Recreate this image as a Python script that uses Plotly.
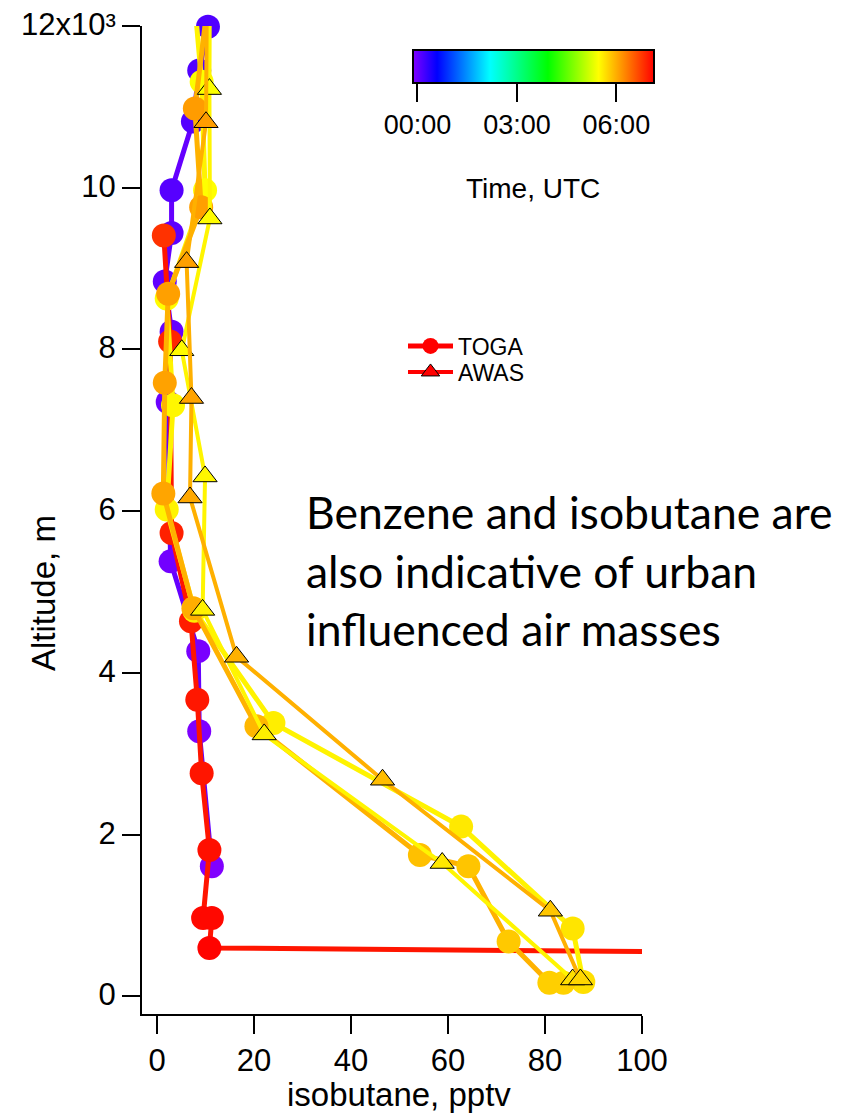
import plotly.graph_objects as go
from plotly.colors import sample_colorscale

# ---------------- data ----------------
# isobutane (pptv), altitude (m), time (h UTC)
toga_a_x = [11.3, 8.7, 8.5, 2.8, 2.2, 3.0, 1.6, 3.0, 3.0, 7.4, 8.7, 10.5]
toga_a_alt = [1610, 3280, 4270, 5380, 7350, 8220, 8840, 9440, 9970, 10820, 11450, 11990]
toga_a_time = [-0.15, -0.14, -0.11, -0.07, -0.03, 0.0, 0.03, 0.06, 0.09, 0.10, 0.11, 0.12]

toga_b_x = [7.3, 9.2, 9.9, 2.0, 3.3, 2.0, 7.7, 24.0, 62.7, 85.7, 87.9]
toga_b_alt = [12600, 11310, 9970, 8630, 7310, 6020, 4770, 3380, 2100, 840, 180]
toga_b_time = [5.42, 5.43, 5.45, 5.47, 5.50, 5.52, 5.54, 5.56, 5.59, 5.62, 5.66]

toga_c_x = [83.8, 80.9, 72.5, 64.2, 54.2, 20.5, 7.5, 1.3, 1.6, 2.3, 9.1, 7.8, 11.1]
toga_c_alt = [170, 170, 680, 1610, 1750, 3340, 4800, 6220, 7590, 8690, 9760, 10980, 12600]
toga_c_time = [5.74, 5.76, 5.80, 5.83, 5.86, 5.92, 5.98, 6.04, 6.06, 6.07, 6.08, 6.10, 6.12]

toga_d_x = [1.4, 2.7, 3.0, 7.0, 8.3, 9.2, 10.8, 9.5, 11.3, 10.8, 200]
toga_d_alt = [9410, 8100, 5730, 4640, 3670, 2760, 1810, 970, 970, 600, 505]
toga_d_time = [6.79, 6.88, 6.91, 6.93, 6.97, 6.98, 7.02, 7.06, 7.07, 7.10, 7.12]

awas_a_x = [10.9, 10.8, 10.9, 5.1, 9.9, 9.4, 22.1, 58.8, 85.7]
awas_a_alt = [12600, 11220, 9620, 7990, 6430, 4780, 3240, 1650, 210]
awas_a_time = [5.42, 5.43, 5.46, 5.48, 5.50, 5.53, 5.56, 5.60, 5.66]

awas_b_x = [87.3, 81.1, 46.5, 16.4, 6.8, 7.1, 6.1, 10.1, 10.3]
awas_b_alt = [210, 1060, 2680, 4200, 6170, 7400, 9080, 10810, 12600]
awas_b_time = [5.72, 5.82, 5.88, 5.96, 6.02, 6.05, 6.07, 6.09, 6.10]

x_ticks = [0, 20, 40, 60, 80, 100]
y_ticks = [0, 2000, 4000, 6000, 8000, 10000, 12000]
y_ticktext = ["0", "2", "4", "6", "8", "10", "12x10³"]
time_ticks = [0, 3, 6]
time_ticktext = ["00:00", "03:00", "06:00"]
note_lines = ["Benzene and isobutane are", "also indicative of urban", "influenced air masses"]

# ---------------- style ----------------
CMIN, CMAX = -0.15, 7.12
CSCALE = [[0.0, "#8000FF"], [0.10, "#0000FF"], [0.32, "#00FFFF"],
          [0.56, "#00FF00"], [0.77, "#FFFF00"], [1.0, "#FF0000"]]
FONT = "Liberation Sans, Arial, Helvetica, sans-serif"

OFF = 8                      # page body margin
W, H = 850 - OFF, 1118 - OFF
ML, MT = 142 - OFF, 26 - OFF
MR, MB = W - (642 - OFF), H - (1014 - OFF)
PW, PH = W - ML - MR, H - MT - MB


def fx(page_x):
    return (page_x - OFF - ML) / PW


def fy(page_y):
    return 1 - (page_y - OFF - MT) / PH


def line_color(times):
    m = sum(times) / len(times)
    return sample_colorscale(CSCALE, [(m - CMIN) / (CMAX - CMIN)])[0]


fig = go.Figure()


def add_profile(x, alt, t, symbol, lw, size, showscale=False):
    marker = dict(color=t, colorscale=CSCALE, cmin=CMIN, cmax=CMAX, size=size,
                  symbol=symbol, opacity=1, showscale=showscale,
                  line=dict(color="black", width=1 if symbol != "circle" else 0))
    if showscale:
        marker["colorbar"] = dict(
            orientation="h",
            x=fx(533), xanchor="center", y=fy(50), yanchor="top",
            len=241, lenmode="pixels", thickness=33, thicknessmode="pixels",
            outlinewidth=2, outlinecolor="black", xpad=0, ypad=0,
            ticks="outside", ticklen=18, tickwidth=2, tickcolor="black",
            tickvals=time_ticks, ticktext=time_ticktext,
            tickfont=dict(size=27, family=FONT, color="black"),
        )
    fig.add_trace(go.Scatter(
        x=x, y=alt, mode="lines+markers", showlegend=False, cliponaxis=False,
        line=dict(color=line_color(t), width=lw), marker=marker,
        hoverinfo="x+y",
    ))


add_profile(toga_a_x, toga_a_alt, toga_a_time, "circle", 5, 24)
add_profile(toga_d_x, toga_d_alt, toga_d_time, "circle", 5, 24)
add_profile(toga_b_x, toga_b_alt, toga_b_time, "circle", 5, 24, showscale=True)
add_profile(toga_c_x, toga_c_alt, toga_c_time, "circle", 5, 24)
add_profile(awas_a_x, awas_a_alt, awas_a_time, "triangle-up", 4, 21)
add_profile(awas_b_x, awas_b_alt, awas_b_time, "triangle-up", 4, 21)

# legend entries
fig.add_trace(go.Scatter(x=[None], y=[None], mode="lines+markers", name="TOGA",
                         legend="legend",
                         line=dict(color="#FF0000", width=5),
                         marker=dict(color="#FF0000", size=16, symbol="circle")))
fig.add_trace(go.Scatter(x=[None], y=[None], mode="lines+markers", name="AWAS",
                         legend="legend2",
                         line=dict(color="#FF0000", width=4),
                         marker=dict(color="#FF0000", size=16, symbol="triangle-up",
                                     line=dict(color="black", width=1))))

axis_common = dict(showline=True, linewidth=2, linecolor="black", ticks="outside",
                   ticklen=18, tickwidth=2, tickcolor="black", showgrid=False,
                   zeroline=False, automargin=False, ticklabeloverflow="allow",
                   tickfont=dict(size=31, family=FONT, color="black"))

legend_common = dict(xanchor="left", yanchor="middle", bgcolor="rgba(0,0,0,0)",
                     borderwidth=0, itemwidth=45,
                     font=dict(size=23, family=FONT, color="black"))

fig.update_layout(
    width=W, height=H, autosize=False,
    margin=dict(l=ML, r=MR, t=MT, b=MB, pad=0, autoexpand=False),
    paper_bgcolor="white", plot_bgcolor="white",
    font=dict(family=FONT, color="black"),
    xaxis=dict(range=[-3.1, 100], tickvals=x_ticks, **axis_common),
    yaxis=dict(range=[-217, 12000], tickvals=y_ticks, ticktext=y_ticktext,
               ticklabelshift=-2, **axis_common),
    showlegend=True,
    legend=dict(x=fx(403), y=fy(346), **legend_common),
    legend2=dict(x=fx(403), y=fy(372), **legend_common),
)

annotations = [
    dict(text="isobutane, pptv", x=fx(399), y=fy(1094), xref="paper", yref="paper",
         showarrow=False, xanchor="center", yanchor="middle",
         font=dict(size=33, family=FONT, color="black")),
    dict(text="Altitude, m", x=fx(43), y=fy(593), xref="paper", yref="paper",
         showarrow=False, xanchor="center", yanchor="middle", textangle=-90,
         font=dict(size=33, family=FONT, color="black")),
    dict(text="Time, UTC", x=fx(533), y=fy(188), xref="paper", yref="paper",
         showarrow=False, xanchor="center", yanchor="middle",
         font=dict(size=28, family=FONT, color="black")),
]
for i, t in enumerate(note_lines):
    annotations.append(dict(
        text=t, x=fx(304), y=fy(512 + 58 * i), xref="paper", yref="paper",
        showarrow=False, xanchor="left", yanchor="middle",
        font=dict(size=44.5, family="Lato, Open Sans, sans-serif", color="black")))
fig.update_layout(annotations=annotations)

fig.write_html("out.html")
